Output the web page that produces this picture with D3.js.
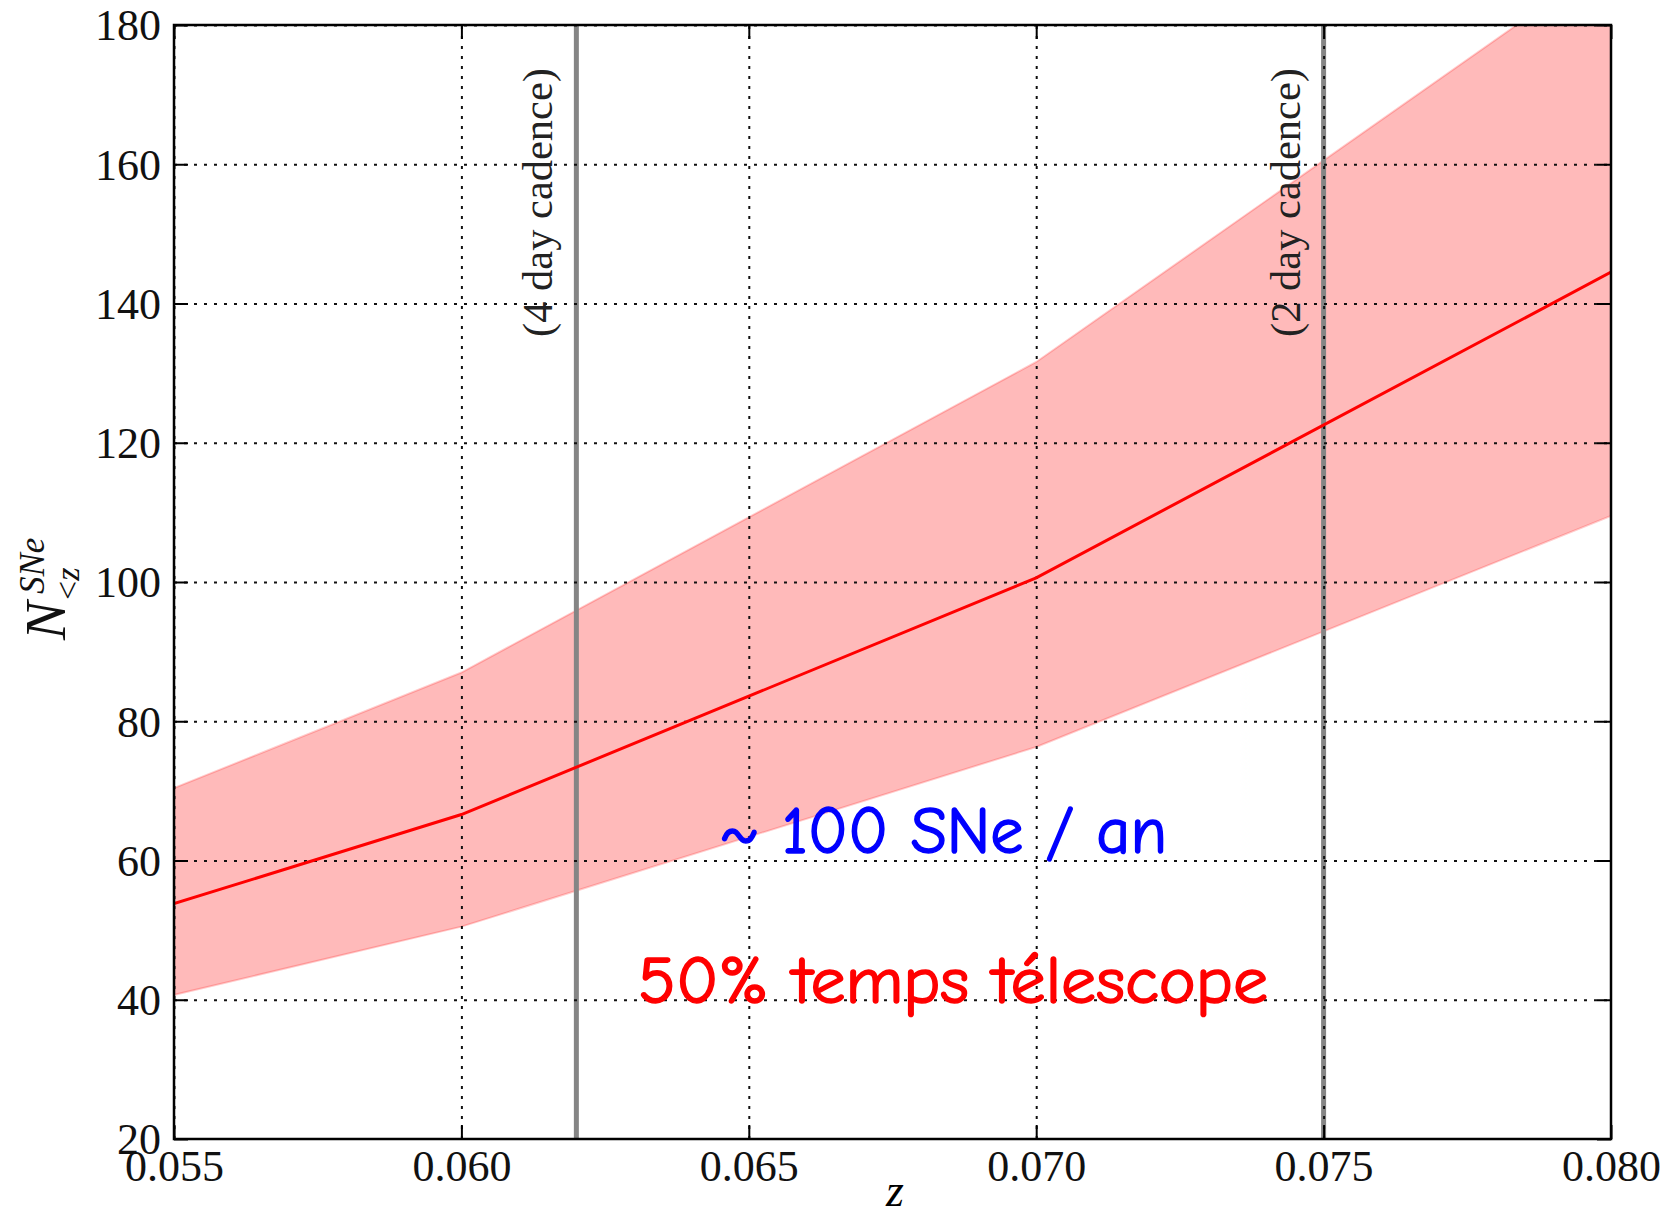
<!DOCTYPE html>
<html>
<head>
<meta charset="utf-8">
<script src="https://cdn.jsdelivr.net/npm/d3@7"></script>
<style>
	body { margin: 0; background: white; }
	svg { display: block; }
</style>
</head>
<body>
<svg id="chart" width="1668" height="1218"></svg>
<script>
// redshift samples and number of SNe below z
var zVals = [0.055, 0.060, 0.070, 0.080];
var nMid = [53.8, 66.6, 100.6, 144.5];
var nLow = [40.7, 50.5, 76.3, 109.5];
var nHigh = [70.4, 87.0, 131.6, 189.5];

var xTicks = [0.055, 0.060, 0.065, 0.070, 0.075, 0.080];
var yTicks = [20, 40, 60, 80, 100, 120, 140, 160, 180];

// cadence markers
var cadenceZ = [0.062, 0.075];
var cadenceLabels = ['(4 day cadence)', '(2 day cadence)'];

var serif = '"Liberation Serif", "DejaVu Serif", serif';
var comic = '"Comic Sans MS", "Comic Neue", "Noto Sans", sans-serif';

var svg = d3.select('#chart');
// note: plain "top" clashes with window.top
var pLeft = 174, pRight = 1611, pTop = 25, pBottom = 1139;

var x = d3.scaleLinear().domain([0.055, 0.080]).range([pLeft, pRight]);
var y = d3.scaleLinear().domain([20, 180]).range([pBottom, pTop]);

svg.append('defs').append('clipPath')
	.attr('id', 'plot-clip')
	.append('rect')
	.attr('x', pLeft)
	.attr('y', pTop)
	.attr('width', pRight - pLeft)
	.attr('height', pBottom - pTop);

var plot = svg.append('g').attr('clip-path', 'url(#plot-clip)');

var pts = zVals.map((z, i) => ({z: z, mid: nMid[i], lo: nLow[i], hi: nHigh[i]}));

// uncertainty band
plot.append('path')
	.datum(pts)
	.attr('d', d3.area().x(d => x(d.z)).y0(d => y(d.lo)).y1(d => y(d.hi)))
	.attr('fill', 'red')
	.attr('fill-opacity', 0.27)
	.attr('stroke', 'red')
	.attr('stroke-opacity', 0.2)
	.attr('stroke-width', 2);

// cadence lines
plot.selectAll('line.cadence')
	.data(cadenceZ)
	.enter()
	.append('line')
	.attr('class', 'cadence')
	.attr('x1', d => x(d))
	.attr('x2', d => x(d))
	.attr('y1', pTop)
	.attr('y2', pBottom)
	.attr('stroke', '#858585')
	.attr('stroke-width', 5);

// dotted grid
var xGrid = d3.axisBottom(x).tickValues(xTicks).tickSize(-(pBottom - pTop)).tickFormat('');
var yGrid = d3.axisLeft(y).tickValues(yTicks).tickSize(-(pRight - pLeft)).tickFormat('');

plot.append('g')
	.attr('transform', 'translate(0,' + pBottom + ')')
	.call(xGrid)
	.call(g => g.select('.domain').remove());
plot.append('g')
	.attr('transform', 'translate(' + pLeft + ',0)')
	.call(yGrid)
	.call(g => g.select('.domain').remove());

plot.selectAll('.tick line')
	.attr('stroke', '#111')
	.attr('stroke-width', 2)
	.attr('stroke-dasharray', '3,7');

// central curve
plot.append('path')
	.datum(pts)
	.attr('d', d3.line().x(d => x(d.z)).y(d => y(d.mid)))
	.attr('fill', 'none')
	.attr('stroke', 'red')
	.attr('stroke-width', 3);

// inward ticks on all four sides
var tickLen = 14;
var axes = [
	d3.axisBottom(x).tickValues(xTicks).tickSize(-tickLen).tickFormat(d3.format('.3f')),
	d3.axisTop(x).tickValues(xTicks).tickSize(-tickLen).tickFormat(''),
	d3.axisLeft(y).tickValues(yTicks).tickSize(-tickLen).tickFormat(d3.format('d')),
	d3.axisRight(y).tickValues(yTicks).tickSize(-tickLen).tickFormat('')
];
var shifts = ['0,' + pBottom, '0,' + pTop, pLeft + ',0', pRight + ',0'];

axes.forEach(function(ax, i) {
	var g = svg.append('g')
		.attr('transform', 'translate(' + shifts[i] + ')')
		.call(ax);
	g.select('.domain').remove();
	g.selectAll('.tick line').attr('stroke', 'black').attr('stroke-width', 2);
	g.selectAll('text')
		.attr('font-family', serif)
		.attr('font-size', 44)
		.attr('fill', '#111');
	if (i == 0) {
		g.selectAll('text').attr('y', 11).attr('dy', '0.71em');
	}
	if (i == 2) {
		g.selectAll('text').attr('x', -13).attr('dy', '0.34em');
	}
});

// frame
svg.append('rect')
	.attr('x', pLeft)
	.attr('y', pTop)
	.attr('width', pRight - pLeft)
	.attr('height', pBottom - pTop)
	.attr('fill', 'none')
	.attr('stroke', 'black')
	.attr('stroke-width', 2.5);

// cadence labels, rotated
svg.selectAll('text.cadence')
	.data(cadenceZ)
	.enter()
	.append('text')
	.attr('class', 'cadence')
	.attr('transform', d => 'translate(' + (x(d) - 24) + ',337) rotate(-90)')
	.attr('font-family', serif)
	.attr('font-size', 42)
	.attr('fill', '#222')
	.attr('textLength', 269)
	.attr('lengthAdjust', 'spacingAndGlyphs')
	.text((d, i) => cadenceLabels[i]);

// axis labels
svg.append('text')
	.attr('x', 895)
	.attr('y', 1206)
	.attr('text-anchor', 'middle')
	.attr('font-family', serif)
	.attr('font-style', 'italic')
	.attr('font-size', 46)
	.text('z');

var ylab = svg.append('g')
	.attr('transform', 'translate(65,640) rotate(-90)')
	.attr('font-family', serif)
	.attr('font-style', 'italic')
	.attr('fill', '#111');
ylab.append('text').attr('x', 0).attr('y', 0).attr('font-size', 58).text('N');
ylab.append('text').attr('x', 46).attr('y', -21).attr('font-size', 35).text('SNe');
var sub = ylab.append('text').attr('x', 40).attr('y', 14).attr('font-size', 34);
sub.append('tspan').attr('font-style', 'normal').text('<');
sub.append('tspan').text('z');

// annotations (slight stroke to mimic the heavier hand-drawn font)
svg.append('text')
	.attr('x', 719)
	.attr('y', 853)
	.attr('font-family', comic)
	.attr('font-size', 66)
	.attr('fill', '#0000ff')
	.attr('stroke', '#0000ff')
	.attr('stroke-width', 1.5)
	.attr('textLength', 448)
	.attr('lengthAdjust', 'spacingAndGlyphs')
	.text('~ 100 SNe / an');

svg.append('text')
	.attr('x', 638)
	.attr('y', 1003)
	.attr('font-family', comic)
	.attr('font-size', 66)
	.attr('fill', '#ff0000')
	.attr('stroke', '#ff0000')
	.attr('stroke-width', 1.5)
	.attr('textLength', 630)
	.attr('lengthAdjust', 'spacingAndGlyphs')
	.text('50% temps télescope');
</script>
</body>
</html>
